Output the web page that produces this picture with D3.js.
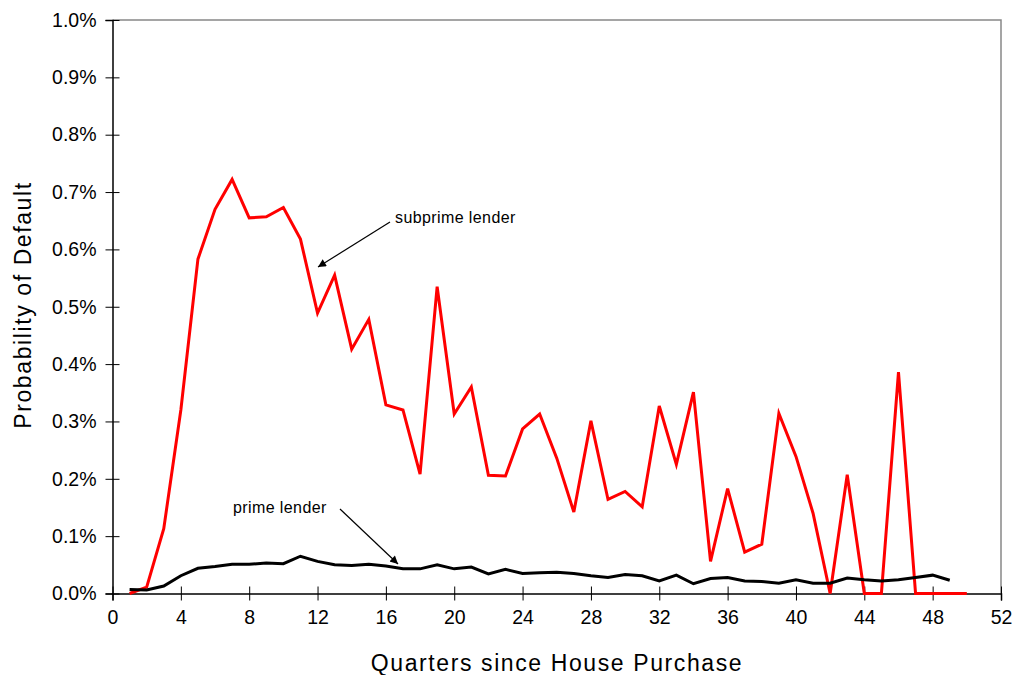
<!DOCTYPE html>
<html><head><meta charset="utf-8">
<script src="https://cdn.jsdelivr.net/npm/d3@7"></script>
<style>body{margin:0;background:#fff}svg{display:block}text{font-family:"Liberation Sans",Arial,sans-serif}</style>
</head><body>
<svg id="c" width="1016" height="675"></svg>
<script>
const quarters = d3.range(1, 51);
const subprime = [0.000,0.011,0.113,0.320,0.583,0.670,0.722,0.655,0.657,0.673,
  0.618,0.489,0.555,0.426,0.478,0.329,0.320,0.208,0.535,0.313,
  0.360,0.206,0.205,0.287,0.313,0.236,0.142,0.301,0.164,0.178,
  0.151,0.327,0.225,0.351,0.056,0.183,0.072,0.086,0.314,0.239,
  0.140,0.000,0.207,0.000,0.000,0.386,0.000,0.000,0.000,0.000];
const prime = [0.007,0.006,0.013,0.031,0.044,0.047,0.051,0.051,0.053,0.052,
  0.065,0.056,0.050,0.049,0.051,0.048,0.043,0.043,0.050,0.043,
  0.046,0.034,0.042,0.035,0.036,0.037,0.035,0.031,0.028,0.033,
  0.031,0.022,0.032,0.017,0.026,0.028,0.022,0.021,0.018,0.024,
  0.018,0.018,0.027,0.024,0.022,0.024,0.028,0.032,0.023];
const xTicks = d3.range(0, 53, 4);
const yTicks = d3.range(0, 11).map(i => i / 10);

const svg = d3.select("#c");
const L = 112.5, R = 1001, T = 20, B = 593.5;
const x = d3.scaleLinear().domain([0, 52]).range([L, R]);
const y = d3.scaleLinear().domain([0, 1.0]).range([B, T]);

svg.append("path").attr("d", `M${L},${T}H${R}V${B}`).attr("fill","none").attr("stroke","#888").attr("stroke-width",1.5);

const xa = svg.append("g").attr("transform", `translate(0,${B})`)
  .call(d3.axisBottom(x).tickValues(xTicks).tickSize(7).tickPadding(10).tickFormat(d3.format("d")));
xa.selectAll(".tick line").attr("y1", -7);
const ya = svg.append("g").attr("transform", `translate(${L},0)`)
  .call(d3.axisLeft(y).tickValues(yTicks).tickSize(7).tickPadding(8).tickFormat(d => d.toFixed(1) + "%"));
ya.selectAll(".tick line").attr("x1", 7);
[xa, ya].forEach(g => {
  g.select(".domain").attr("stroke", "#000").attr("stroke-width", 1.5);
  g.selectAll(".tick line").attr("stroke", "#000").attr("stroke-width", 1);
  g.selectAll("text").attr("font-size", 19.5).attr("fill", "#000").attr("font-family", "Liberation Sans, Arial, sans-serif");
});
xa.selectAll("text").attr("dy", "0.71em");
ya.selectAll("text").attr("dx", "-1");

const line = d3.line().x((d, i) => x(i + 1)).y(d => y(d));
svg.append("path").datum(subprime).attr("d", line).attr("fill","none").attr("stroke","#ff0000").attr("stroke-width",3);
svg.append("path").datum(prime).attr("d", line).attr("fill","none").attr("stroke","#000").attr("stroke-width",3);

svg.append("text").attr("x", 557).attr("y", 671).attr("text-anchor","middle").attr("font-size",23).attr("letter-spacing","1.6").text("Quarters since House Purchase");
svg.append("text").attr("transform", `translate(31,305) rotate(-90)`).attr("text-anchor","middle").attr("font-size",23).attr("letter-spacing","1.6").text("Probability of Default");

svg.append("defs").append("marker").attr("id","ah").attr("viewBox","0 0 10 10").attr("refX",10).attr("refY",5)
  .attr("markerWidth",10).attr("markerHeight",8).attr("markerUnits","userSpaceOnUse").attr("orient","auto")
  .append("path").attr("d","M0,0L10,5L0,10z").attr("fill","#000");
svg.append("text").attr("x", 395).attr("y", 223).attr("font-size",16).attr("letter-spacing","0.4").text("subprime lender");
svg.append("line").attr("x1",390).attr("y1",222).attr("x2",318).attr("y2",267).attr("stroke","#000").attr("stroke-width",1.2).attr("marker-end","url(#ah)");
svg.append("text").attr("x", 233).attr("y", 513).attr("font-size",16).attr("letter-spacing","0.4").text("prime lender");
svg.append("line").attr("x1",340).attr("y1",509).attr("x2",398).attr("y2",564).attr("stroke","#000").attr("stroke-width",1.2).attr("marker-end","url(#ah)");
</script>
</body></html>
